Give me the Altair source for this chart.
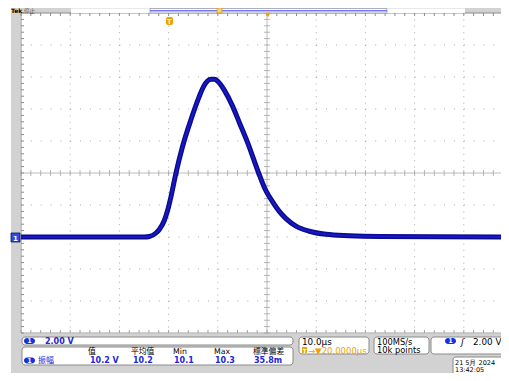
import altair as alt
import pandas as pd

# ---------------- data read from the screen ----------------
# waveform: time relative to trigger (µs), voltage (V)
time_us = [-30, -4.9, -3.9, -2.56, -1.89, -0.87, -0.2, 0.49, 1.5, 2.85, 4.55, 6.24,
           7.1, 7.9, 8.62, 9.3, 9.96, 10.6, 11.32, 13.0, 14.37, 16.06, 18.3, 19.6,
           21.14, 22.5, 23.86, 25.89, 28.6, 32.0, 36.7, 42.8, 67.6]
volts = [0, 0, 0.03, 0.25, 0.47, 1.03, 1.66, 2.53, 4.0, 5.67, 7.34, 8.79,
         9.4, 9.75, 9.86, 9.86, 9.74, 9.52, 9.18, 8.18, 7.16, 5.9, 4.0, 3.0,
         2.2, 1.6, 1.15, 0.68, 0.36, 0.17, 0.08, 0.03, 0]

# graticule (10 µs/div horizontally, 2 V/div vertically)
grid_t = [-20, -10, 0, 10, 30, 40, 50, 60]
grid_v = [-4, -2, 0, 2, 6, 8, 10, 12]
center_t = 20
center_v = 4
minor_t = [-30 + 2 * i for i in range(49)]
minor_v = [-6 + 0.4 * i for i in range(51)]

# texts
meas_labels = ["值", "平均值", "Min", "Max", "標準偏差"]
meas_values = ["10.2 V", "10.2", "10.1", "10.3", "35.8m"]
ch_scale = "2.00 V"
meas_name = "振幅"
timebase = "10.0µs"
trig_pos = "→▼20.0000µs"
sample_rate = "100MS/s"
record_len = "10k points"
trig_level = "2.00 V"
date_str = "21 5月 2024"
time_str = "13:42:05"
status = ["Tek", "停止"]

# ---------------- chart ----------------
W, H = 480, 320
xs = alt.Scale(domain=[-30, 67.56], nice=False, zero=False)
ys = alt.Scale(domain=[-6, 14], nice=False, zero=False)


def X(f):
    return alt.X(f, type="quantitative", scale=xs, axis=None)


def Y(f):
    return alt.Y(f, type="quantitative", scale=ys, axis=None)


one = pd.DataFrame({"k": [0]})
GRID = "#a9a9a9"
CENTER = "#bdbdbd"
BEZEL = "#d2d2d2"
BLUE_TXT = "#2424d8"
ORANGE = "#f0a000"
SANS = "DejaVu Sans"
CJK = "Noto Sans CJK SC"


def box(x1, x2, y1, y2, fill, stroke=None, r=0, sw=1):
    kw = dict(fill=fill, cornerRadius=r)
    if stroke is not None:
        kw.update(stroke=stroke, strokeWidth=sw)
    return alt.Chart(one).mark_rect(**kw).encode(
        x=alt.value(x1), x2=alt.value(x2), y=alt.value(y1), y2=alt.value(y2))


def txt(s, x, y, color="black", size=8.5, weight="normal", font=SANS, align="left", style="normal"):
    return alt.Chart(one).mark_text(
        text=s, color=color, fontSize=size, fontWeight=weight, font=font,
        align=align, baseline="alphabetic", fontStyle=style).encode(
        x=alt.value(x), y=alt.value(y))


def hline(x1, x2, y, color, sw=1, dash=None):
    kw = dict(color=color, strokeWidth=sw)
    if dash:
        kw["strokeDash"] = dash
    return alt.Chart(one).mark_rule(**kw).encode(
        x=alt.value(x1), x2=alt.value(x2), y=alt.value(y))


wave = pd.DataFrame({"t": time_us, "v": volts})
gt = pd.DataFrame({"t": grid_t})
gv = pd.DataFrame({"v": grid_v})
mt = pd.DataFrame({"t": minor_t, "v": [center_v] * len(minor_t)})
mv = pd.DataFrame({"v": minor_v, "t": [center_t] * len(minor_v)})
ct = pd.DataFrame({"t": [center_t]})
cv = pd.DataFrame({"v": [center_v]})

layers = []
# bezel / background
layers.append(box(-10, W, -5, 0, BEZEL))              # top bar
layers.append(box(-10, -1, -5, 360, BEZEL))           # left bezel
layers.append(box(-10, W, 320.5, 360, BEZEL))         # bottom panel
layers.append(box(0, W, 0, H, "white"))

# dotted grid
layers.append(alt.Chart(gt).mark_rule(color=GRID, strokeWidth=1, strokeDash=[1, 5.4]).encode(
    x=X("t"), y=alt.value(0), y2=alt.value(H)))
layers.append(alt.Chart(gv).mark_rule(color=GRID, strokeWidth=1, strokeDash=[1, 8.84]).encode(
    y=Y("v"), x=alt.value(0), x2=alt.value(W)))
# center cross
layers.append(alt.Chart(ct).mark_rule(color=CENTER, strokeWidth=1).encode(
    x=X("t"), y=alt.value(0), y2=alt.value(H)))
layers.append(alt.Chart(cv).mark_rule(color=CENTER, strokeWidth=1).encode(
    y=Y("v"), x=alt.value(0), x2=alt.value(W)))
layers.append(alt.Chart(mt).mark_tick(orient="vertical", size=6, thickness=1, color="#9a9a9a").encode(
    x=X("t"), y=Y("v")))
layers.append(alt.Chart(mv).mark_tick(orient="horizontal", size=6, thickness=1, color="#9a9a9a").encode(
    x=X("t"), y=Y("v")))
# border + edge ticks
layers.append(hline(0, W, 0, "#8c8c8c"))
layers.append(hline(0, W, H, "#a0a0a0"))
layers.append(alt.Chart(one).mark_rule(color="#8c8c8c").encode(
    x=alt.value(0), y=alt.value(0), y2=alt.value(H)))
layers.append(alt.Chart(mt).mark_rule(color="#8c8c8c").encode(
    x=X("t"), y=alt.value(0), y2=alt.value(3)))
layers.append(alt.Chart(mt).mark_rule(color="#a0a0a0").encode(
    x=X("t"), y=alt.value(H - 3), y2=alt.value(H)))
layers.append(alt.Chart(mv).mark_rule(color="#8c8c8c").encode(
    y=Y("v"), x=alt.value(0), x2=alt.value(3)))

# waveform
layers.append(alt.Chart(wave).mark_line(color="#0b0b8c", strokeWidth=5, interpolate="monotone").encode(
    x=X("t"), y=Y("v")))
layers.append(alt.Chart(wave).mark_line(color="#1818c8", strokeWidth=2, interpolate="monotone").encode(
    x=X("t"), y=Y("v")))

# top status bar
layers.append(box(50, 444, -4.5, 0, "white"))
layers.append(box(129, 366, -4.5, 0, "white", stroke="#9a9ab0", sw=0.8))
layers.append(hline(129, 366, -2.3, "#7676f2", sw=1.5))
layers.append(box(196, 201, -5, 0, "#f7d27a", stroke="#e79800", sw=0.8))
layers.append(txt(status[0], -10, 0.3, size=6, weight="bold"))
layers.append(txt(status[1], 3, 0.3, color="#555555", size=5.5, font=CJK))
layers.append(alt.Chart(one).mark_point(shape="triangle-down", filled=True, color=ORANGE, size=28, opacity=1).encode(
    x=alt.value(247), y=alt.value(2)))
# trigger position marker
layers.append(box(145, 152, 4, 12, ORANGE, r=2))
layers.append(txt("T", 148.5, 11, color="#fff2c8", size=7, weight="bold", align="center"))
# ground marker
layers.append(box(-10, -1, 220, 229, "#2a4de8", stroke="#101060", sw=0.8))
layers.append(txt("1", -5.5, 227.5, color="white", size=7, weight="bold", align="center"))

# bottom boxes
BR = "#8a8a8a"
layers.append(box(1, 272, 324, 332, "white", stroke=BR, r=3))
layers.append(box(3, 14, 325, 331, "#1530e0", r=3))
layers.append(txt("1", 8.5, 330.3, color="white", size=6.5, weight="bold", align="center"))
layers.append(txt(ch_scale, 24, 331.3, color=BLUE_TXT, size=8, weight="bold"))

layers.append(box(1, 272, 334, 352, "white", stroke=BR, r=3))
layers.append(box(3, 14, 344.5, 350.5, "#1530e0", r=3))
layers.append(txt("1", 8.5, 349.8, color="white", size=6.5, weight="bold", align="center"))
layers.append(txt(meas_name, 17, 350, color=BLUE_TXT, size=8, font=CJK))
lab_x = [67, 110, 152, 193, 232]
for s, x in zip(meas_labels, lab_x):
    layers.append(txt(s, x, 341.3, size=7.8, font=CJK if not s.isascii() else SANS))
val_x = [69, 112, 153, 194, 233]
for s, x in zip(meas_values, val_x):
    layers.append(txt(s, x, 350, color=BLUE_TXT, size=8, weight="bold"))

layers.append(box(278, 348, 324, 341, "white", stroke=BR, r=3))
layers.append(txt(timebase, 281, 332, size=8.8))
layers.append(box(281, 286, 334, 340, ORANGE, r=1))
layers.append(txt("T", 283.5, 339.5, color="white", size=5.5, weight="bold", align="center"))
layers.append(txt(trig_pos, 287, 340.5, color=ORANGE, size=8.5))

layers.append(box(353, 408, 324, 341, "white", stroke=BR, r=3))
layers.append(txt(sample_rate, 356, 331.8, size=8.3))
layers.append(txt(record_len, 356, 340.3, size=8.3))

layers.append(box(410, 486, 324, 341, "white", stroke=BR, r=3))
layers.append(box(424, 435, 325, 331, "#1530e0", r=3))
layers.append(txt("1", 429.5, 330.3, color="white", size=6.5, weight="bold", align="center"))
layers.append(txt("ʃ", 440, 332, size=9, style="italic"))
layers.append(txt(trig_level, 452, 332, size=8.8))

layers.append(box(432, 486, 344, 362, "white", stroke=BR, r=3))
layers.append(txt(date_str, 434, 351.5, size=6.5, font=SANS))
layers.append(txt(time_str, 434, 359.3, size=6.5))

chart = alt.layer(*layers).properties(
    width=W, height=H,
    autosize=alt.AutoSizeParams(type="none"),
    padding={"left": 13, "top": 5, "right": 0, "bottom": 40},
    background="white",
).configure_view(stroke=None)

chart.save("out.html", embed_options={"renderer": "svg", "actions": False})
